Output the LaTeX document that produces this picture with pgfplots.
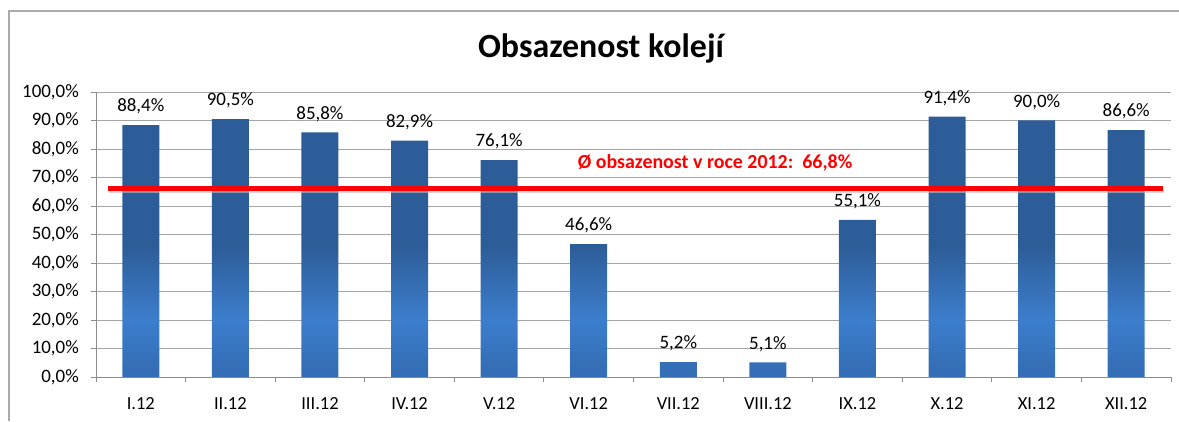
\documentclass[border=0pt]{standalone}
\usepackage{pgfplots}
\pgfplotsset{compat=1.18}
\usepackage{fontspec}
\setmainfont{Carlito}
\definecolor{bdark}{RGB}{45,93,152}
\definecolor{blight}{RGB}{60,126,205}
\definecolor{bbot}{RGB}{52,110,182}
\definecolor{gridc}{RGB}{165,165,165}
\definecolor{axc}{RGB}{140,140,140}
\definecolor{framec}{RGB}{170,170,170}
\pgfdeclareverticalshading{barshade}{100bp}{color(0bp)=(bbot); color(27bp)=(bbot); color(36bp)=(blight); color(50bp)=(bdark); color(100bp)=(bdark)}
\begin{document}
\begin{tikzpicture}[x=1bp,y=1bp]
\useasboundingbox (0,0) rectangle (1179,421);
\draw[framec, line width=1.3bp] (9,0) -- (9,410) -- (1179,410);
\node[font=\bfseries\fontsize{34}{38}\selectfont, anchor=center] at (601,373) {Obsazenost kolejí};
\begin{axis}[
  at={(96bp,44bp)}, anchor=south west,
  scale only axis, width=1075bp, height=285bp,
  xmin=-0.5, xmax=11.5, ymin=0, ymax=100,
  clip=false,
  /pgf/number format/assume math mode=true,
  axis x line=bottom, axis y line=left,
  axis line style={-, draw=axc, line width=0.9bp},
  ytick={0,10,...,100},
  yticklabels={{0,0\%},{10,0\%},{20,0\%},{30,0\%},{40,0\%},{50,0\%},{60,0\%},{70,0\%},{80,0\%},{90,0\%},{100,0\%}},
  ymajorgrids, grid style={gridc, line width=0.9bp},
  xtick={-0.5,0.5,...,11.5}, xticklabels={},
  extra x ticks={0,1,...,11},
  extra x tick labels={I.12,II.12,III.12,IV.12,V.12,VI.12,VII.12,VIII.12,IX.12,X.12,XI.12,XII.12},
  extra x tick style={major tick length=0pt, grid=none},
  tick align=outside, major tick length=5bp,
  tick style={draw=axc, line width=0.9bp},
  yticklabel style={inner sep=0pt, xshift=-12bp, font=\fontsize{19}{21}\selectfont},
  xticklabel style={inner sep=0pt, yshift=-20bp, font=\fontsize{18.5}{21}\selectfont},
  every node near coord/.append style={inner sep=0pt, text depth=0pt, yshift=13bp, font=\fontsize{19}{21}\selectfont, text=black},
]
\addplot[ybar, bar width=37bp, draw=none, shade, shading=barshade,
  point meta=y,
  nodes near coords={\pgfmathprintnumber[use comma,fixed,fixed zerofill,precision=1]{\pgfplotspointmeta}\%}]
  coordinates {(0,88.4) (1,90.5) (2,85.8) (3,82.9) (4,76.1) (5,46.6) (6,5.2) (7,5.1) (8,55.1) (9,91.4) (10,90.0) (11,86.6)};
\addplot[black!25, opacity=0.6, line width=4bp, forget plot] coordinates {(-0.35,65.1) (11.42,65.1)};
\addplot[red, line width=5bp, forget plot] coordinates {(-0.366,66.0) (11.41,66.0)};
\node[text=red, font=\bfseries\fontsize{20}{22}\selectfont] at (axis cs:6.41,75.1) {Ø obsazenost v roce 2012:\ \ 66,8\%};
\end{axis}
\end{tikzpicture}
\end{document}
